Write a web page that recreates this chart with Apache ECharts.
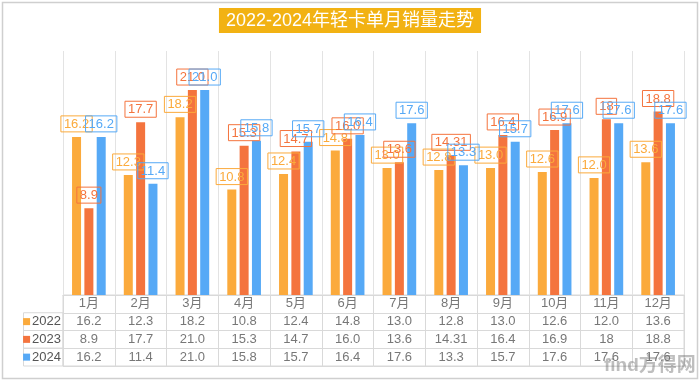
<!DOCTYPE html>
<html><head><meta charset="utf-8">
<script src="https://cdn.jsdelivr.net/npm/echarts@6/dist/echarts.min.js"></script>
<style>html,body{margin:0;padding:0;background:#fff}#c{width:700px;height:382px}</style>
</head><body><div id="c"></div>
<script>
const titleText = '2022-2024年轻卡单月销量走势';
const months = ['1月','2月','3月','4月','5月','6月','7月','8月','9月','10月','11月','12月'];
const seriesNames = ['2022','2023','2024'];
const s2022 = ['16.2','12.3','18.2','10.8','12.4','14.8','13.0','12.8','13.0','12.6','12.0','13.6'];
const s2023 = ['8.9','17.7','21.0','15.3','14.7','16.0','13.6','14.31','16.4','16.9','18','18.8'];
const s2024 = ['16.2','11.4','21.0','15.8','15.7','16.4','17.6','13.3','15.7','17.6','17.6','17.6'];
const allSeries = [s2022, s2023, s2024];
const colors = ['#FBAA3C','#F4743E','#56A9F6'];
const FONT = 'Arial, "Liberation Sans", "Noto Sans CJK SC", sans-serif';

const chart = echarts.init(document.getElementById('c'), null, {renderer:'canvas'});

const barSeries = allSeries.map((arr, k) => ({
  name: seriesNames[k], type: 'bar', xAxisIndex: 0, yAxisIndex: 0,
  data: arr.map(Number), barWidth: 9, barGap: '37%',
  itemStyle: {color: colors[k]},
  label: {show: true, position: 'top', distance: 5, color: colors[k], fontSize: 13, fontFamily: FONT,
    borderColor: colors[k], borderWidth: 1, padding: [2,3,1,3],
    formatter: p => arr[p.dataIndex]}
}));

const rowCats = ['hdr'].concat(seriesNames);
const tableSeries = [];
const cellLabel = (fmt) => ({show: true, position: 'inside', color: '#555', fontSize: 13, fontFamily: FONT, formatter: fmt});
tableSeries.push({
  type: 'scatter', xAxisIndex: 1, yAxisIndex: 1, symbolSize: 2, itemStyle: {color: 'rgba(0,0,0,0)'}, silent: true,
  data: months.map(m => [m, 'hdr']),
  label: cellLabel(p => p.value[0])
});
allSeries.forEach((arr, k) => {
  tableSeries.push({
    type: 'scatter', xAxisIndex: 1, yAxisIndex: 1, symbolSize: 2, itemStyle: {color: 'rgba(0,0,0,0)'}, silent: true,
    data: months.map((m, i) => [m, seriesNames[k], arr[i]]),
    label: cellLabel(p => p.value[2])
  });
});

const rich = {};
seriesNames.forEach((n, k) => { rich['sq' + k] = {backgroundColor: colors[k], width: 7, height: 7}; });
rich.t = {color: '#555', fontSize: 13, fontFamily: FONT, padding: [0,0,0,2]};

const baseGraphic = [
  {type: 'rect', shape: {x: 2.5, y: 2.5, width: 695, height: 376}, style: {fill: 'none', stroke: '#cfcfcf', lineWidth: 1.5}, silent: true},
  {type: 'text', left: 604, top: 356, z: 100, style: {text: 'find方得网', fill: 'rgba(110,110,110,0.45)', fontSize: 19, fontWeight: 'bold', fontFamily: FONT}, silent: true}
];

chart.setOption({
  animation: false,
  backgroundColor: '#fff',
  title: {text: titleText, left: 'center', top: 8, backgroundColor: '#F2B213', padding: [4,7,3,7],
    textStyle: {color: '#fff', fontSize: 18, fontWeight: 'normal', fontFamily: FONT}},
  graphic: baseGraphic,
  grid: [
    {left: 63, right: 16, top: 51, height: 244},
    {left: 63, right: 16, top: 295, height: 71, show: true, borderColor: '#d9d9d9', borderWidth: 1}
  ],
  xAxis: [
    {type: 'category', gridIndex: 0, data: months, axisLabel: {show: false}, axisTick: {show: false},
      axisLine: {show: true, lineStyle: {color: '#d9d9d9'}},
      splitLine: {show: true, interval: 0, lineStyle: {color: '#e3e3e3'}}},
    {type: 'category', gridIndex: 1, data: months, axisLabel: {show: false}, axisTick: {show: false},
      axisLine: {show: false},
      splitLine: {show: true, interval: 0, lineStyle: {color: '#d9d9d9'}}}
  ],
  yAxis: [
    {type: 'value', gridIndex: 0, min: 0, max: 25, show: false},
    {type: 'category', gridIndex: 1, data: rowCats, inverse: true, axisTick: {show: false}, axisLine: {show: false},
      splitLine: {show: true, interval: 0, lineStyle: {color: '#d9d9d9'}},
      axisLabel: {margin: 2, interval: 0, align: 'right',
        formatter: (v) => { const k = seriesNames.indexOf(v); return k < 0 ? '' : '{sq' + k + '|}{t|' + v + '}'; },
        rich: rich}}
  ],
  series: barSeries.concat(tableSeries)
});

// row label boxes for the left column of the table
const boxes = [];
const rowH = 71 / 4;
seriesNames.forEach((n) => {
  const yc = chart.convertToPixel({yAxisIndex: 1}, n);
  boxes.push({type: 'rect', shape: {x: 23.5, y: yc - rowH / 2, width: 39.5, height: rowH}, style: {fill: 'none', stroke: '#d9d9d9', lineWidth: 1}, silent: true});
});
chart.setOption({graphic: baseGraphic.concat(boxes)});
</script></body></html>
